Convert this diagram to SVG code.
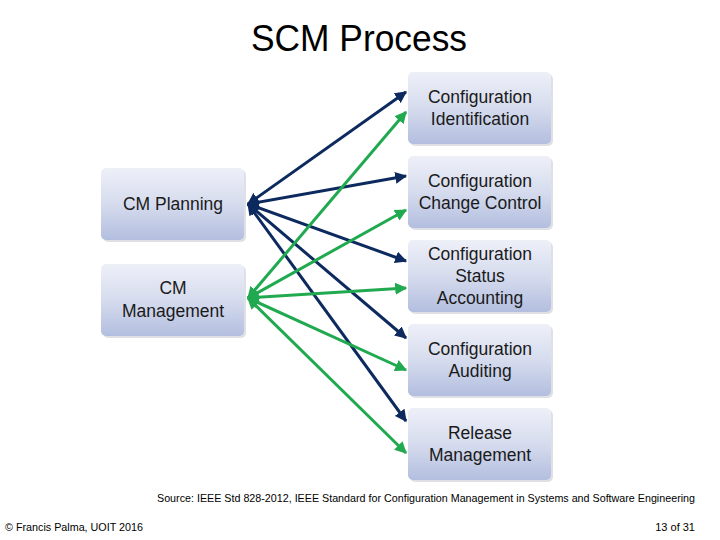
<svg xmlns="http://www.w3.org/2000/svg" width="720" height="540" viewBox="0 0 720 540">
<defs>
<linearGradient id="g" x1="0" y1="0" x2="0" y2="1">
<stop offset="0" stop-color="#eef0f8"/>
<stop offset="0.5" stop-color="#d6dcee"/>
<stop offset="1" stop-color="#b3bedf"/>
</linearGradient>
<marker id="ad" viewBox="0 0 10 10" refX="9" refY="5" markerWidth="4" markerHeight="4" orient="auto-start-reverse" markerUnits="strokeWidth"><path d="M0,0 L10,5 L0,10 z" fill="#0d2a5f"/></marker>
<marker id="ag" viewBox="0 0 10 10" refX="9" refY="5" markerWidth="4" markerHeight="4" orient="auto-start-reverse" markerUnits="strokeWidth"><path d="M0,0 L10,5 L0,10 z" fill="#21a950"/></marker>
</defs>
<style>
.box{fill:url(#g);}
.sh{fill:#c8ccd6;opacity:0.6;}
.t{font-family:"Liberation Sans",Arial,sans-serif;font-size:17.5px;fill:#1a1a1a;text-anchor:middle;}
.d{stroke:#0d2a5f;stroke-width:3;fill:none;marker-start:url(#ad);marker-end:url(#ad);}
.gr{stroke:#21a950;stroke-width:3;fill:none;marker-start:url(#ag);marker-end:url(#ag);}
.f{font-family:"Liberation Sans",Arial,sans-serif;font-size:11px;fill:#000;}
</style>
<text x="359" y="51" font-family="'Liberation Sans',Arial,sans-serif" font-size="36" text-anchor="middle" textLength="216" lengthAdjust="spacingAndGlyphs" fill="#000">SCM Process</text>
<g id="connectors">
<line class="d" x1="248" y1="204" x2="406" y2="92"/>
<line class="d" x1="248" y1="204" x2="406" y2="176"/>
<line class="d" x1="248" y1="204" x2="406" y2="261"/>
<line class="d" x1="248" y1="204" x2="406" y2="338"/>
<line class="d" x1="248" y1="204" x2="406" y2="421"/>
<line class="gr" x1="248" y1="298" x2="406" y2="112"/>
<line class="gr" x1="248" y1="298" x2="406" y2="210"/>
<line class="gr" x1="248" y1="298" x2="406" y2="288"/>
<line class="gr" x1="248" y1="298" x2="406" y2="370"/>
<line class="gr" x1="248" y1="298" x2="406" y2="453"/>
</g>
<g id="cm-planning">
<rect class="sh" x="103" y="170" width="143" height="72" rx="5"/>
<rect class="box" x="101" y="168" width="143" height="72" rx="5"/>
<text class="t" x="173" y="210">CM Planning</text>
</g>
<g id="cm-management">
<rect class="sh" x="103" y="266" width="143" height="72" rx="5"/>
<rect class="box" x="101" y="264" width="143" height="72" rx="5"/>
<text class="t" x="173" y="294">CM</text>
<text class="t" x="173" y="317">Management</text>
</g>
<g id="config-identification">
<rect class="sh" x="410" y="74" width="143" height="72" rx="5"/>
<rect class="box" x="408" y="72" width="143" height="72" rx="5"/>
<text class="t" x="480" y="103">Configuration</text>
<text class="t" x="480" y="125">Identification</text>
</g>
<g id="config-change-control">
<rect class="sh" x="410" y="158" width="143" height="72" rx="5"/>
<rect class="box" x="408" y="156" width="143" height="72" rx="5"/>
<text class="t" x="480" y="187">Configuration</text>
<text class="t" x="480" y="209">Change Control</text>
</g>
<g id="config-status-accounting">
<rect class="sh" x="410" y="242" width="143" height="72" rx="5"/>
<rect class="box" x="408" y="240" width="143" height="72" rx="5"/>
<text class="t" x="480" y="260">Configuration</text>
<text class="t" x="480" y="282">Status</text>
<text class="t" x="480" y="304">Accounting</text>
</g>
<g id="config-auditing">
<rect class="sh" x="410" y="326" width="143" height="72" rx="5"/>
<rect class="box" x="408" y="324" width="143" height="72" rx="5"/>
<text class="t" x="480" y="355">Configuration</text>
<text class="t" x="480" y="377">Auditing</text>
</g>
<g id="release-management">
<rect class="sh" x="410" y="410" width="143" height="72" rx="5"/>
<rect class="box" x="408" y="408" width="143" height="72" rx="5"/>
<text class="t" x="480" y="439">Release</text>
<text class="t" x="480" y="461">Management</text>
</g>
<text class="f" x="157" y="502" textLength="538" lengthAdjust="spacingAndGlyphs">Source: IEEE Std 828-2012, IEEE Standard for Configuration Management in Systems and Software Engineering</text>
<text class="f" x="5" y="531" textLength="138" lengthAdjust="spacingAndGlyphs">© Francis Palma, UOIT 2016</text>
<text class="f" x="695" y="531" text-anchor="end">13 of 31</text>
</svg>
